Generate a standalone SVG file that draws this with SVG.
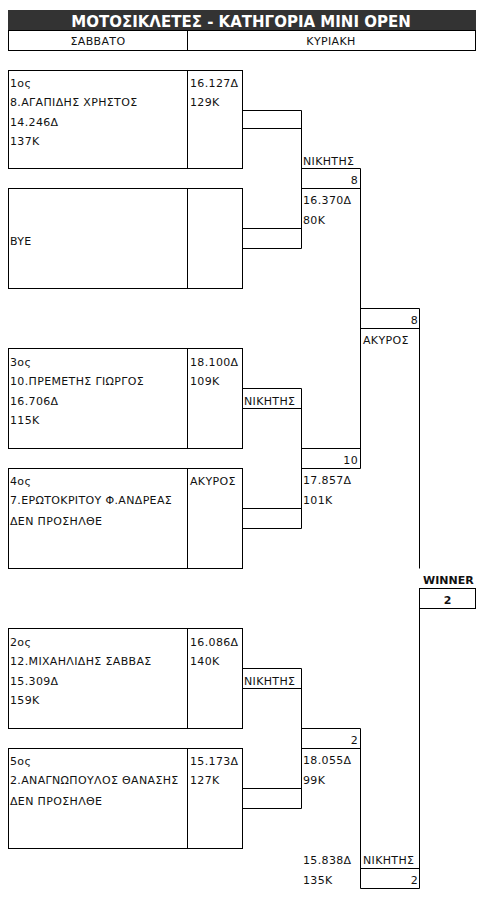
<svg xmlns="http://www.w3.org/2000/svg" width="485" height="898" viewBox="0 0 485 898">
<style>
text{font-family:"DejaVu Sans","Liberation Sans",sans-serif;font-size:11px;letter-spacing:0.35px;fill:#111}
.b{fill:none;stroke:#000;stroke-width:1}
.t{font-weight:bold;font-size:15px;letter-spacing:0;fill:#fff}
.w{font-weight:bold;font-size:11px;letter-spacing:0}
.r{text-anchor:end}
.c{text-anchor:middle}
</style>
<rect width="485" height="898" fill="#fff"/>
<g id="header">
<rect x="8" y="10" width="468" height="20" fill="#333"/>
<text class="t c" x="241" y="26.5">ΜΟΤΟΣΙΚΛΕΤΕΣ - ΚΑΤΗΓΟΡΙΑ MINI OPEN</text>
<rect class="b" x="8.5" y="30.5" width="467" height="20"/>
<line class="b" x1="187.5" y1="30.5" x2="187.5" y2="50.5"/>
<text class="c" x="98" y="45">ΣΑΒΒΑΤΟ</text>
<text class="c" x="331" y="45">ΚΥΡΙΑΚΗ</text>
</g>
<g id="p1">
<rect class="b" x="8.5" y="70.5" width="234" height="98"/>
<line class="b" x1="187.5" y1="70.5" x2="187.5" y2="168.5"/>
<text x="10" y="86.5">1ος</text><text x="10" y="106">8.ΑΓΑΠΙΔΗΣ ΧΡΗΣΤΟΣ</text><text x="10" y="125.5">14.246Δ</text><text x="10" y="145">137K</text>
<text x="190" y="86.5">16.127Δ</text><text x="190" y="106">129K</text>
</g>
<g id="p2">
<rect class="b" x="8.5" y="188.5" width="234" height="100"/>
<line class="b" x1="187.5" y1="188.5" x2="187.5" y2="288.5"/>
<text x="10" y="244.5">BYE</text>
</g>
<g id="p3">
<rect class="b" x="8.5" y="348.5" width="234" height="100"/>
<line class="b" x1="187.5" y1="348.5" x2="187.5" y2="448.5"/>
<text x="10" y="366">3ος</text><text x="10" y="385">10.ΠΡΕΜΕΤΗΣ ΓΙΩΡΓΟΣ</text><text x="10" y="404.5">16.706Δ</text><text x="10" y="424">115K</text>
<text x="190" y="366">18.100Δ</text><text x="190" y="385">109K</text>
</g>
<g id="p4">
<rect class="b" x="8.5" y="468.5" width="234" height="100"/>
<line class="b" x1="187.5" y1="468.5" x2="187.5" y2="568.5"/>
<text x="10" y="484.5">4ος</text><text x="10" y="504">7.ΕΡΩΤΟΚΡΙΤΟΥ Φ.ΑΝΔΡΕΑΣ</text><text x="10" y="524.5">ΔΕΝ ΠΡΟΣΗΛΘΕ</text>
<text x="190" y="484.5">ΑΚΥΡΟΣ</text>
</g>
<g id="p5">
<rect class="b" x="8.5" y="628.5" width="234" height="100"/>
<line class="b" x1="187.5" y1="628.5" x2="187.5" y2="728.5"/>
<text x="10" y="646">2ος</text><text x="10" y="664.5">12.ΜΙΧΑΗΛΙΔΗΣ ΣΑΒΒΑΣ</text><text x="10" y="684.5">15.309Δ</text><text x="10" y="704">159K</text>
<text x="190" y="646">16.086Δ</text><text x="190" y="664.5">140K</text>
</g>
<g id="p6">
<rect class="b" x="8.5" y="748.5" width="234" height="100"/>
<line class="b" x1="187.5" y1="748.5" x2="187.5" y2="848.5"/>
<text x="10" y="764.5">5ος</text><text x="10" y="784">2.ΑΝΑΓΝΩΠΟΥΛΟΣ ΘΑΝΑΣΗΣ</text><text x="10" y="804.5">ΔΕΝ ΠΡΟΣΗΛΘΕ</text>
<text x="190" y="764.5">15.173Δ</text><text x="190" y="784">127K</text>
</g>
<g id="connectors">
<path class="b" d="M242.5 110.5H301.5M242.5 128.5H301.5M242.5 228.5H301.5M242.5 248.5H301.5M301.5 110.5V248.5"/>
<path class="b" d="M242.5 388.5H301.5M242.5 408.5H301.5M242.5 508.5H301.5M242.5 528.5H301.5M301.5 388.5V528.5"/>
<path class="b" d="M242.5 668.5H301.5M242.5 688.5H301.5M242.5 788.5H301.5M242.5 808.5H301.5M301.5 668.5V808.5"/>
<path class="b" d="M301.5 168.5H360.5M301.5 188.5H360.5M301.5 448.5H360.5M301.5 468.5H360.5M360.5 168.5V468.5"/>
<path class="b" d="M301.5 728.5H360.5M301.5 748.5H360.5M360.5 728.5V888.5"/>
<path class="b" d="M360.5 308.5H419.5M360.5 328.5H419.5M360.5 868.5H419.5M360.5 888.5H419.5M419.5 308.5V568.5M419.5 608.5V888.5"/>
</g>
<g id="r1a">
<text x="303" y="164.5">ΝΙΚΗΤΗΣ</text><text class="r" x="358" y="183.5">8</text><text x="303" y="204">16.370Δ</text><text x="303" y="223.5">80K</text>
</g>
<g id="r1b">
<text x="244" y="405">ΝΙΚΗΤΗΣ</text><text class="r" x="358" y="463.5">10</text><text x="303" y="484">17.857Δ</text><text x="303" y="503.5">101K</text>
</g>
<g id="r1c">
<text x="244" y="685">ΝΙΚΗΤΗΣ</text><text class="r" x="358" y="743.5">2</text><text x="303" y="763.5">18.055Δ</text><text x="303" y="783.5">99K</text>
</g>
<g id="r2a">
<text class="r" x="418" y="323.5">8</text><text x="363" y="343.5">ΑΚΥΡΟΣ</text>
</g>
<g id="r2b">
<text x="303" y="863.5">15.838Δ</text><text x="303" y="883.5">135K</text><text x="363" y="863.5">ΝΙΚΗΤΗΣ</text><text class="r" x="418" y="883.5">2</text>
</g>
<g id="winner">
<text class="w" x="423" y="584">WINNER</text>
<rect class="b" x="419.5" y="588.5" width="56" height="20"/>
<text class="w c" x="447.5" y="603.5">2</text>
</g>
</svg>
